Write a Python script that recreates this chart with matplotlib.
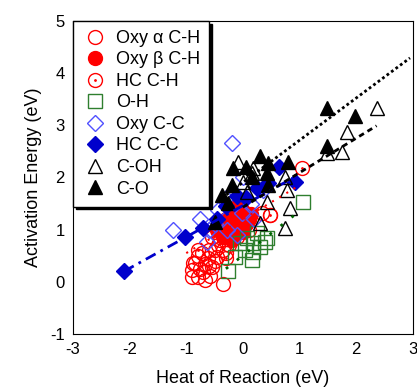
import matplotlib
matplotlib.use('Agg')
import matplotlib.pyplot as plt
from matplotlib.legend_handler import HandlerTuple

plt.rcParams['font.family'] = ['Liberation Sans', 'DejaVu Sans']
plt.rcParams['axes.unicode_minus'] = False

# Oxy alpha C-H (open red circles)
oxy_a_x = [-0.9, -0.85, -0.8, -0.75, -0.7, -0.67, -0.6, -0.55, -0.5, -0.46, -0.44, -0.4, -0.35, -0.3,
           -0.9, -0.79, -0.67, -0.58, -0.5, -0.3, -0.2, -0.1, 0.0, 0.1, 0.33, 0.48, -0.35, -0.62, -0.72, -0.25]
oxy_a_y = [0.23, 0.36, 0.1, 0.25, 0.19, 0.04, 0.61, 0.29, 0.4, 0.48, 0.71, 0.8, -0.04, 0.9,
           0.1, 0.5, 0.35, 0.12, 0.6, 0.55, 1.0, 0.85, 1.1, 1.2, 1.32, 1.28, 0.6, 0.45, 0.55, 0.7]

# Oxy beta C-H (filled red circles)
oxy_b_x = [-0.4, -0.3, -0.25, -0.2, -0.15, -0.1, -0.05, 0.0, 0.05, 0.1, -0.35, -0.2, 0.0, -0.45, 0.15, -0.1]
oxy_b_y = [1.1, 1.2, 0.95, 1.3, 1.05, 1.15, 1.25, 1.35, 1.1, 1.2, 0.85, 0.8, 0.95, 1.0, 1.3, 1.45]

# HC C-H (circle with dot)
hc_ch_x = [1.04, 0.48, -0.88, -0.79, -0.6, -0.55, -0.3, 0.1]
hc_ch_y = [2.18, 1.28, 0.36, 0.6, 0.3, 0.85, 0.45, 1.0]

# O-H (open green squares)
oh_x = [-0.26, -0.14, 0.04, 0.16, 0.18, 0.3, 0.39, 0.25, 0.07, -0.05, 0.42, 0.18, 1.06]
oh_y = [0.2, 0.48, 0.61, 0.42, 0.75, 0.67, 0.77, 0.94, 0.84, 0.75, 0.84, 0.57, 1.53]

# Oxy C-C (open blue diamonds)
oxy_cc_x = [-1.23, -0.76, -0.64, -0.44, -0.5, -0.28, -0.3, -0.02, 0.0, -0.19, 0.15, 0.2, 0.35, -0.1, -0.6]
oxy_cc_y = [1.0, 1.21, 0.77, 1.38, 1.1, 1.0, 1.6, 1.32, 2.01, 2.66, 1.5, 1.2, 1.75, 0.9, 1.0]

# HC C-C (filled blue diamonds)
hc_cc_x = [-2.1, -1.02, -0.7, -0.45, -0.3, -0.1, 0.05, 0.25, 0.45, 0.63, 0.92]
hc_cc_y = [0.2, 0.86, 1.03, 1.2, 1.45, 1.65, 1.6, 1.8, 1.9, 2.2, 1.92]

# C-OH (open black triangles)
c_oh_x = [2.36, 1.83, 1.75, 1.48, 0.74, 0.83, 0.42, 0.3, 0.74, 0.77, 0.18, 0.07, 0.0, -0.09, 0.16]
c_oh_y = [3.33, 2.87, 2.49, 2.47, 1.03, 1.42, 1.53, 1.13, 2.01, 1.76, 2.18, 1.72, 1.91, 2.3, 2.09]

# C-O (filled black triangles)
c_o_x = [1.48, 1.98, 1.48, 0.3, -0.18, 0.44, 0.79, -0.2, 0.42, -0.37, -0.26, 0.16, 0.44, -0.49, 0.05]
c_o_y = [3.33, 3.18, 2.61, 2.41, 2.18, 2.28, 2.3, 1.86, 2.09, 1.67, 1.51, 2.01, 1.86, 1.15, 2.2]

# fitted lines (end points)
fit_co_x, fit_co_y = [-0.45, 2.95], [1.54, 4.29]
fit_coh_x, fit_coh_y = [0.0, 2.36], [1.43, 2.99]
fit_hccc_x, fit_hccc_y = [-2.1, 0.9], [0.2, 2.0]
fit_oh_x, fit_oh_y = [-0.3, 0.9], [0.25, 1.27]
fit_ch_x, fit_ch_y = [-1.0, 1.0], [0.55, 1.85]

red = '#ff0000'
green = '#2f7f2f'
blue = '#0000cc'
lblue = '#5050ff'

fig = plt.figure(figsize=(4.17, 3.87), dpi=100)
ax = fig.add_axes([0.175, 0.137, 0.815, 0.809])

ms = 10
h1, = ax.plot(oxy_a_x, oxy_a_y, 'o', ms=ms, mfc='none', mec=red, mew=1, ls='none')
h2, = ax.plot(oxy_b_x, oxy_b_y, 'o', ms=ms, mfc=red, mec=red, mew=1, ls='none')
h3a, = ax.plot(hc_ch_x, hc_ch_y, 'o', ms=ms, mfc='none', mec=red, mew=1, ls='none')
h3b, = ax.plot(hc_ch_x, hc_ch_y, '.', ms=2, color=red, ls='none')
h4, = ax.plot(oh_x, oh_y, 's', ms=ms, mfc='none', mec=green, mew=1, ls='none')
h5, = ax.plot(oxy_cc_x, oxy_cc_y, 'D', ms=8, mfc='none', mec=lblue, mew=1, ls='none')
h6, = ax.plot(hc_cc_x, hc_cc_y, 'D', ms=8, mfc=blue, mec=blue, mew=1, ls='none')
h7, = ax.plot(c_oh_x, c_oh_y, '^', ms=ms, mfc='none', mec='black', mew=1, ls='none')
h8, = ax.plot(c_o_x, c_o_y, '^', ms=ms, mfc='black', mec='black', mew=1, ls='none')

ax.plot(fit_ch_x, fit_ch_y, ls=(0, (1, 3)), color=red, lw=1.5)
ax.plot(fit_oh_x, fit_oh_y, ls=(0, (1, 4)), color='#006600', lw=2)
ax.plot(fit_hccc_x, fit_hccc_y, ls=(0, (4, 2, 1, 2)), color=blue, lw=2)
ax.plot(fit_co_x, fit_co_y, ls=(0, (1, 1)), color='black', lw=2)
ax.plot(fit_coh_x, fit_coh_y, ls=(0, (2, 1.5)), color='black', lw=2)

ax.set_xlim(-3, 3)
ax.set_ylim(-1, 5)
ax.set_xticks([-3, -2, -1, 0, 1, 2, 3])
ax.set_yticks([-1, 0, 1, 2, 3, 4, 5])
ax.tick_params(length=0, labelsize=12, pad=6)
ax.set_xlabel('Heat of Reaction (eV)', fontsize=13, labelpad=9)
ax.set_ylabel('Activation Energy (eV)', fontsize=13, labelpad=6)

leg = ax.legend([h1, h2, (h3a, h3b), h4, h5, h6, h7, h8],
                ['Oxy \u03b1 C-H', 'Oxy \u03b2 C-H', 'HC C-H', 'O-H', 'Oxy C-C', 'HC C-C', 'C-OH', 'C-O'],
                handler_map={tuple: HandlerTuple(ndivide=1, pad=0)},
                loc='upper left', borderaxespad=0, fancybox=False, edgecolor='black',
                fontsize=13, handletextpad=0.5, labelspacing=0.25, borderpad=0.5, handlelength=1.4,
                framealpha=1, shadow={'color': 'black', 'alpha': 1})
leg.get_frame().set_linewidth(1)

fig.savefig('out.png', dpi=100)
